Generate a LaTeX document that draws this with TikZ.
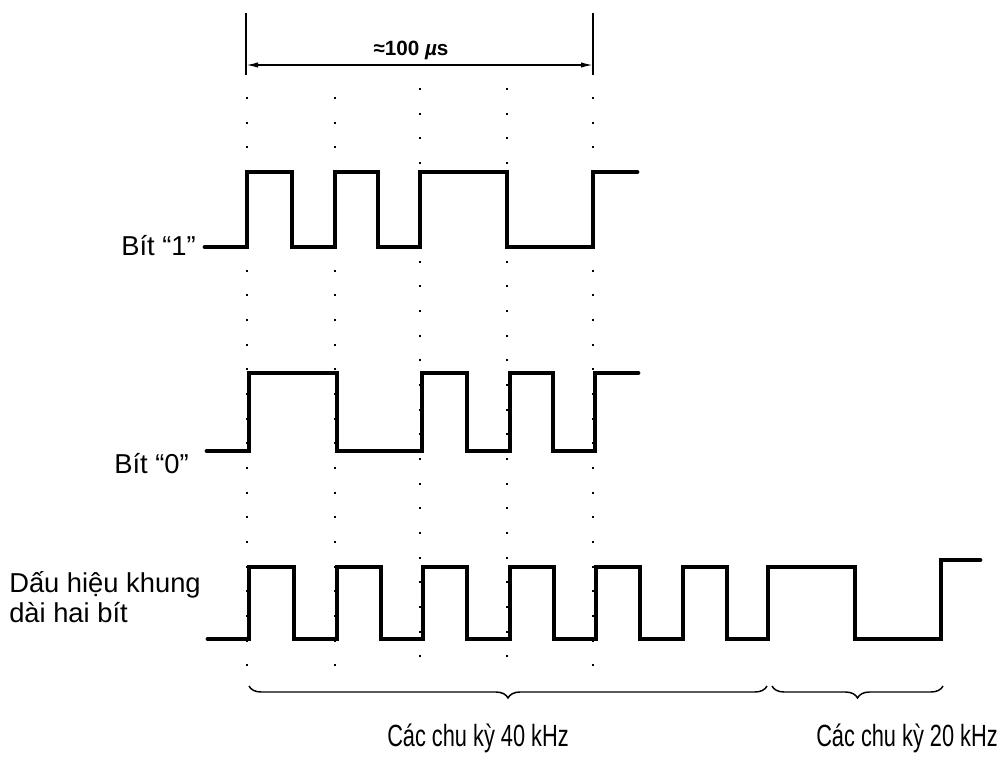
\documentclass[tikz,border=0pt]{standalone}
\usepackage{fontspec}
\setmainfont{Liberation Sans}
\usetikzlibrary{arrows.meta,decorations.pathreplacing}
\begin{document}
\begin{tikzpicture}[x=0.75pt,y=-0.75pt,
  wave/.style={line width=3.6pt,line join=miter,line cap=round},
  dotcol/.style={line width=1.7pt,dash pattern=on 1.5pt off 17pt},
  lbl/.style={font=\fontsize{20.5pt}{22.5pt}\selectfont,inner sep=0pt},
  foot/.style={font=\fontsize{23pt}{26pt}\selectfont,xscale=0.71,inner sep=0pt},
  bar/.style={line width=1.5pt},
  dimarrow/.style={line width=1.1pt,{Latex[length=9pt,width=4pt]}-{Latex[length=9pt,width=4pt]}},
  bracestyle/.style={line width=1.1pt,decorate,decoration={brace,mirror,amplitude=9pt}}]
\useasboundingbox (0,0) rectangle (1005,756);
% dimension bars
\coordinate (bLt) at (246,13); \coordinate (bLb) at (246,75);
\coordinate (bRt) at (593,13); \coordinate (bRb) at (593,75);
\draw[bar] (bLt) -- (bLb);
\draw[bar] (bRt) -- (bRb);
\coordinate (aL) at (246,65); \coordinate (aR) at (593,65);
\draw[dimarrow] (aL) -- (aR);
\node[font=\bfseries\fontsize{15.5pt}{17pt}\selectfont,inner sep=0pt] (dimtxt) at (411,50) {≈100 {\itshape µ}s};
% dotted guide columns
\foreach \x/\ya/\yb in {247/97/669,335/97/669,420/88/659,507/88/659,593/97/669}{
  \draw[dotcol] (\x,\ya) -- (\x,\yb);
}
% waveform Bit 1
\draw[wave] (205,247)--(247,247)--(247,172)--(292,172)--(292,247)--(335,247)--(335,172)--(378,172)--(378,247)--(420,247)--(420,172)--(507,172)--(507,247)--(593,247)--(593,172)--(637,172);
% waveform Bit 0
\draw[wave] (207,451)--(249,451)--(249,373)--(337,373)--(337,451)--(422,451)--(422,373)--(467,373)--(467,451)--(510,451)--(510,373)--(553,373)--(553,451)--(595,451)--(595,373)--(638,373);
% frame signal
\draw[wave] (208,639)--(249,639)--(249,567)--(294,567)--(294,639)--(337,639)--(337,567)--(381,567)--(381,639)--(423,639)--(423,567)--(467,567)--(467,639)--(510,639)--(510,567)--(554,567)--(554,639)--(596,639)--(596,567)--(640,567)--(640,639)--(683,639)--(683,567)--(727,567)--(727,639)--(768,639)--(768,567)--(855,567)--(855,639)--(941,639)--(941,560)--(980,560);
% labels
\node[lbl,anchor=base east] (b1) at (196,255) {Bít “1”};
\node[lbl,anchor=base east] (b0) at (189,473) {Bít “0”};
\node[lbl,anchor=base west,align=left] (frm) at (9,622) {Dấu hiệu khung\\dài hai bít};
% braces
\coordinate (br1l) at (249,686); \coordinate (br1r) at (767,686);
\coordinate (br2l) at (772,686); \coordinate (br2r) at (943,686);
\draw[bracestyle] (br1l) -- (br1r);
\draw[bracestyle] (br2l) -- (br2r);
\node[foot] (f40) at (478,738) {Các chu kỳ 40 kHz};
\node[foot] (f20) at (907,738) {Các chu kỳ 20 kHz};
\end{tikzpicture}
\end{document}
